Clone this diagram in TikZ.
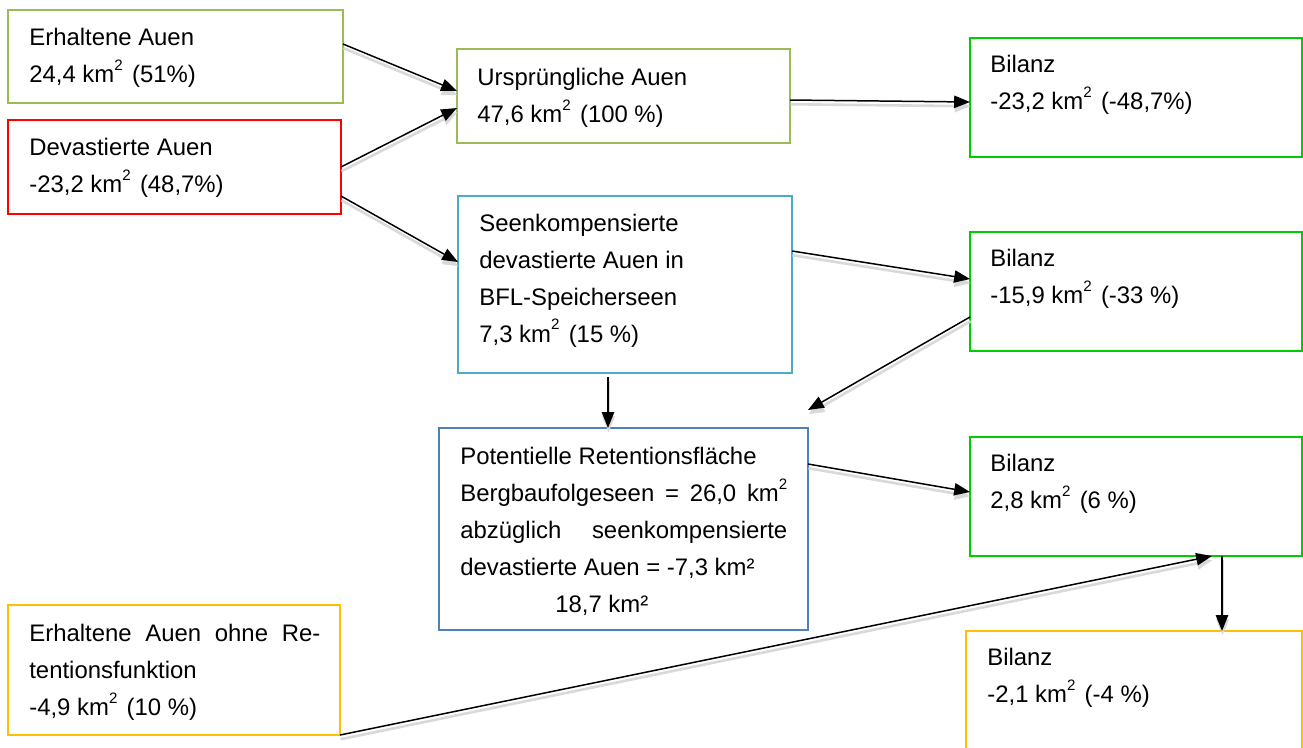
\documentclass[tikz,border=0pt]{standalone}
\usepackage{fontspec}
\setmainfont{Liberation Sans}
\usepackage{xcolor}
\usepackage{tikz}
\usetikzlibrary{arrows.meta,positioning,calc}

\definecolor{auegreen}{RGB}{155,187,89}
\definecolor{auered}{RGB}{255,0,0}
\definecolor{bilgreen}{RGB}{0,204,0}
\definecolor{seeblue}{RGB}{75,172,198}
\definecolor{retblue}{RGB}{79,129,189}
\definecolor{auegold}{RGB}{255,192,0}

% km with a raised, small 2
\newcommand{\kmsq}{km\raisebox{0.52em}{\fontsize{8.6pt}{8.6pt}\selectfont 2}}

\begin{document}
\begin{tikzpicture}[
    box/.style={rectangle, draw, line width=1.1pt, anchor=north west, inner sep=0pt, outer sep=0pt},
    txt/.style={anchor=north west, inner sep=0pt, align=left, font=\fontsize{13.6pt}{21pt}\selectfont},
    arrow/.style={-{Triangle[length=9pt,width=7pt]}, line width=0.85pt,
        preaction={draw=black!15, line width=1.5pt, transform canvas={shift={(0.3pt,-2.4pt)}}}}
]
    \useasboundingbox (0,0) rectangle (26.06,-14.94);

    % left column
    \node[box, draw=auegreen, minimum width=6.70cm, minimum height=1.86cm] (erhalten) at (0.16,-0.20) {};
    \node[txt] (erhalten-txt) at ([shift={(0.42,-0.36)}]erhalten.north west)
        {Erhaltene Auen\\24,4 \kmsq\hspace{1.5pt} (51\%)};

    \node[box, draw=auered, minimum width=6.66cm, minimum height=1.88cm] (devast) at (0.16,-2.40) {};
    \node[txt] (devast-txt) at ([shift={(0.42,-0.36)}]devast.north west)
        {Devastierte Auen\\-23,2 \kmsq\hspace{1.5pt} (48,7\%)};

    \node[box, draw=auegold, minimum width=6.64cm, minimum height=2.60cm] (ohne) at (0.16,-12.10) {};
    \node[txt] (ohne-txt) at ([shift={(0.42,-0.38)}]ohne.north west)
        {\makebox[5.82cm][s]{Erhaltene Auen ohne Re-}\\tentionsfunktion\\-4,9 \kmsq\hspace{1.5pt} (10 \%)};

    % middle column
    \node[box, draw=auegreen, minimum width=6.66cm, minimum height=1.88cm] (urspr) at (9.14,-0.98) {};
    \node[txt] (urspr-txt) at ([shift={(0.40,-0.38)}]urspr.north west)
        {Ursprüngliche Auen\\47,6 \kmsq\hspace{1.5pt} (100 \%)};

    \node[box, draw=seeblue, minimum width=6.68cm, minimum height=3.54cm] (seen) at (9.16,-3.92) {};
    \node[txt] (seen-txt) at ([shift={(0.42,-0.36)}]seen.north west)
        {Seenkompensierte\\devastierte Auen in\\BFL-Speicherseen\\7,3 \kmsq\hspace{1.5pt} (15 \%)};

    \node[box, draw=retblue, minimum width=7.38cm, minimum height=4.04cm] (potent) at (8.78,-8.56) {};
    \node[txt] (potent-txt) at ([shift={(0.42,-0.38)}]potent.north west)
        {Potentielle Retentionsfläche\\
         \makebox[6.54cm][s]{Bergbaufolgeseen = 26,0 \kmsq}\\
         \makebox[6.54cm][s]{abzüglich seenkompensierte}\\
         devastierte Auen = -7,3 km²\\
         \hspace*{1.9cm}18,7 km²};

    % right column
    \node[box, draw=bilgreen, minimum width=6.64cm, minimum height=2.38cm] (bil1) at (19.40,-0.76) {};
    \node[txt] (bil1-txt) at ([shift={(0.40,-0.34)}]bil1.north west)
        {Bilanz\\-23,2 \kmsq\hspace{1.5pt} (-48,7\%)};

    \node[box, draw=bilgreen, minimum width=6.64cm, minimum height=2.38cm] (bil2) at (19.40,-4.64) {};
    \node[txt] (bil2-txt) at ([shift={(0.40,-0.34)}]bil2.north west)
        {Bilanz\\-15,9 \kmsq\hspace{1.5pt} (-33 \%)};

    \node[box, draw=bilgreen, minimum width=6.64cm, minimum height=2.38cm] (bil3) at (19.40,-8.74) {};
    \node[txt] (bil3-txt) at ([shift={(0.40,-0.34)}]bil3.north west)
        {Bilanz\\2,8 \kmsq\hspace{1.5pt} (6 \%)};

    \node[box, draw=auegold, minimum width=6.72cm, minimum height=2.60cm] (bil4) at (19.32,-12.62) {};
    \node[txt] (bil4-txt) at ([shift={(0.42,-0.34)}]bil4.north west)
        {Bilanz\\-2,1 \kmsq\hspace{1.5pt} (-4 \%)};

    \coordinate (potent-top) at ([yshift=0.36cm]potent.north east);

    % connectors
    \draw[arrow] ([yshift=0.25cm]erhalten.east) -- ([yshift=0.10cm]urspr.west);
    \draw[arrow] (devast.east) -- ([yshift=-0.24cm]urspr.west);
    \draw[arrow] ([yshift=-0.58cm]devast.east) -- ([yshift=0.45cm]seen.west);
    \draw[arrow] ([yshift=-0.08cm]urspr.east) -- ([yshift=-0.09cm]bil1.west);
    \draw[arrow] ([yshift=0.67cm]seen.east) -- ([yshift=0.25cm]bil2.west);
    \draw[arrow] ([yshift=-0.51cm]bil2.west) -- (potent-top);
    \draw[arrow] ([shift={(-0.34,-0.08)}]seen.south) -- ([xshift=-0.34cm]seen.south |- potent.north);
    \draw[arrow] ([yshift=1.30cm]potent.east) -- ([yshift=0.09cm]bil3.west);
    \draw[arrow] (ohne.south east) -- ([xshift=1.52cm]bil3.south);
    \draw[arrow] ([xshift=1.72cm]bil3.south) -- ([xshift=1.72cm]bil3.south |- bil4.north);
\end{tikzpicture}
\end{document}
